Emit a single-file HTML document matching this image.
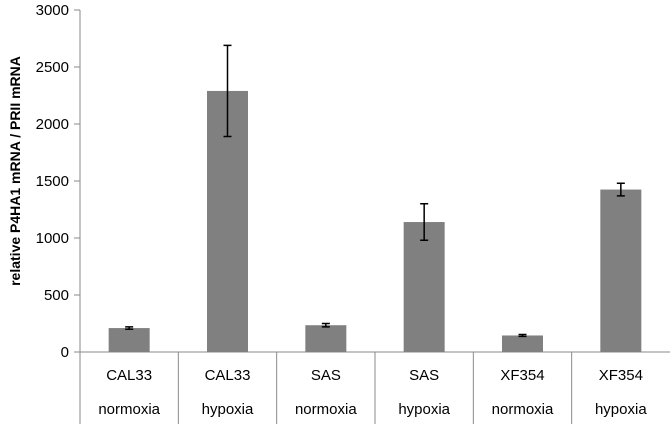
<!DOCTYPE html>
<html><head><meta charset="utf-8"><style>
body{margin:0;background:#fff;}
svg text{font-family:"Liberation Sans",sans-serif;fill:#000;}
</style></head><body>
<svg id="chart" width="670" height="424" xmlns="http://www.w3.org/2000/svg"></svg>
<script>
const cellLines = ["CAL33","CAL33","SAS","SAS","XF354","XF354"];
const conditions = ["normoxia","hypoxia","normoxia","hypoxia","normoxia","hypoxia"];
const values = [210,2290,235,1140,145,1425];
const errors = [10,400,15,160,8,55];
const yTicks = [0,500,1000,1500,2000,2500,3000];

const NS="http://www.w3.org/2000/svg";
const svg=document.getElementById('chart');
const x0=80,x1=670,yTop=10,yBase=352,yMax=3000;
const cw=(x1-x0)/values.length;
const y=v=>yBase-(v/yMax)*(yBase-yTop);
const xc=i=>x0+cw*(i+0.5);
function mk(t,a){const e=document.createElementNS(NS,t);for(const k in a)e.setAttribute(k,a[k]);svg.appendChild(e);return e;}

const ya=mk('line',{x1:x0,y1:yTop,x2:x0,y2:424,stroke:'#8a8a8a','stroke-width':1});


yTicks.forEach(t=>{
  const tk=mk('line',{x1:x0-6,y1:y(t),x2:x0,y2:y(t),stroke:'#8a8a8a'});
  
  
  const tx=mk('text',{x:x0-11,y:y(t)+5,'text-anchor':'end','font-size':15});
  tx.textContent=t;
  
  
});
const xa=mk('line',{x1:x0-6,y1:yBase,x2:x1,y2:yBase,stroke:'#8a8a8a'});



values.forEach((v,i)=>{
  const bw=41;
  const b=mk('rect',{x:xc(i)-bw/2,y:y(v),width:bw,height:yBase-y(v),fill:'#808080'});
  
  
  const e=errors[i];
  const g=mk('path',{d:`M${xc(i)},${y(v+e)}V${y(v-e)}M${xc(i)-4},${y(v+e)}H${xc(i)+4}M${xc(i)-4},${y(v-e)}H${xc(i)+4}`,stroke:'#000','stroke-width':1.5,fill:'none'});
  
  
  if(i>0){
    const s=mk('line',{x1:x0+cw*i,y1:yBase,x2:x0+cw*i,y2:424,stroke:'#8a8a8a'});
    
    
  }
  const t1=mk('text',{x:xc(i),y:380,'text-anchor':'middle','font-size':15});
  t1.textContent=cellLines[i];
  
  
  const t2=mk('text',{x:xc(i),y:414,'text-anchor':'middle','font-size':15});
  t2.textContent=conditions[i];
  
  
});
const yt=mk('text',{x:0,y:0,'text-anchor':'middle','font-size':14,'font-weight':'bold',transform:`translate(20,${(yTop+yBase)/2-10}) rotate(-90)`});
yt.textContent='relative P4HA1 mRNA / PRII mRNA';


</script>
</body></html>
